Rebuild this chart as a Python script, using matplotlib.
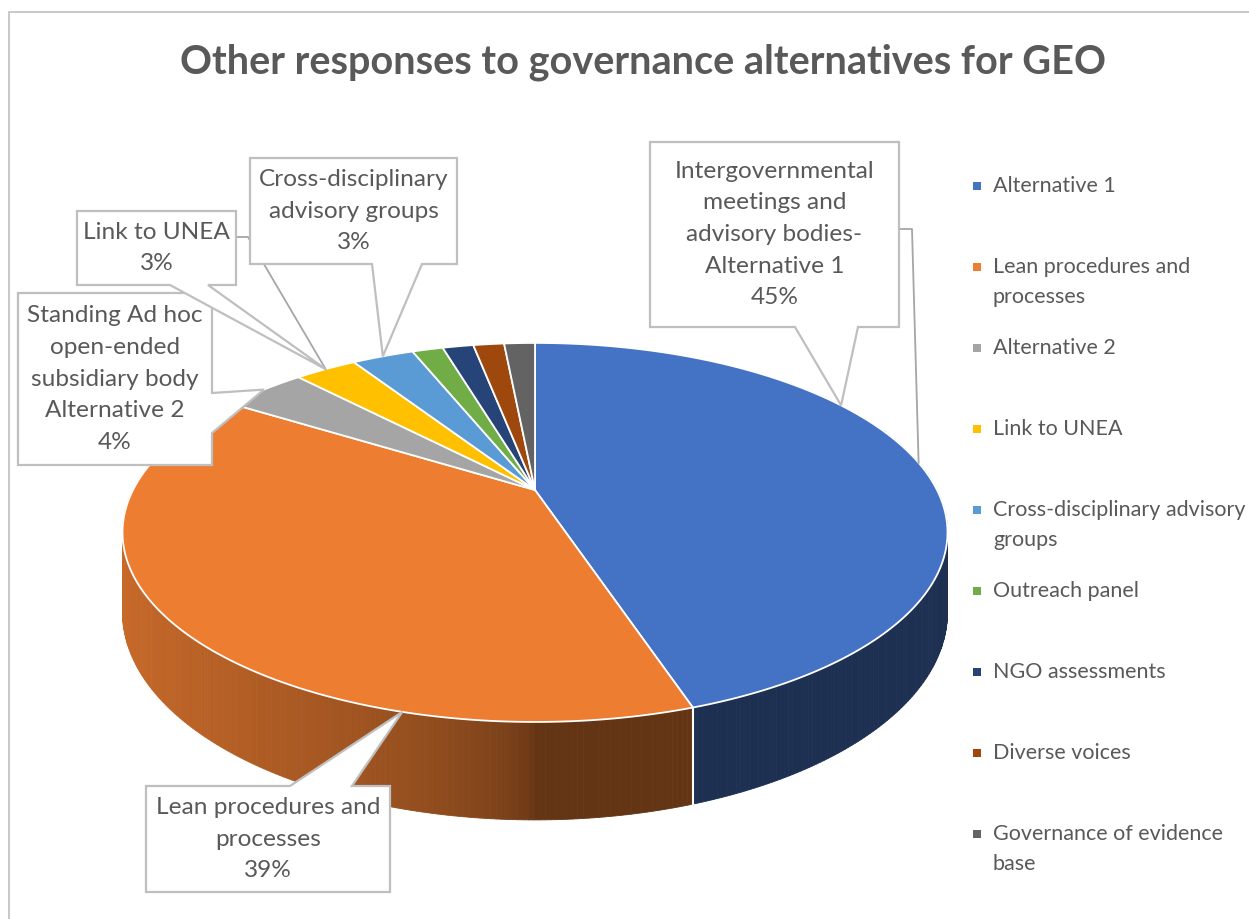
import matplotlib.pyplot as plt
from matplotlib.patches import Polygon, Rectangle
import numpy as np

# Category names shown in the legend
legend_names = ["Alternative 1", "Lean procedures and\nprocesses", "Alternative 2",
                "Link to UNEA", "Cross-disciplinary advisory\ngroups", "Outreach panel",
                "NGO assessments", "Diverse voices", "Governance of evidence\nbase"]
# Share of responses (%)
shares = [45, 39, 4, 3, 3, 1.5, 1.5, 1.5, 1.5]
colors = ["#4472C4", "#ED7D31", "#A5A5A5", "#FFC000", "#5B9BD5",
          "#70AD47", "#264478", "#9E480E", "#636363"]

# Callout label names (only some slices are labelled)
callout_names = {0: "Intergovernmental\nmeetings and\nadvisory bodies-\nAlternative 1",
                 1: "Lean procedures and\nprocesses",
                 2: "Standing Ad hoc\nopen-ended\nsubsidiary body\nAlternative 2",
                 3: "Link to UNEA",
                 4: "Cross-disciplinary\nadvisory groups"}

text_grey = "#595959"
line_grey = "#BFBFBF"
font = "Lato"

fig = plt.figure(figsize=(12.49, 9.19), dpi=100)
ax = fig.add_axes([0, 0, 1, 1])
ax.set_xlim(0, 1249)
ax.set_ylim(919, 0)
ax.axis("off")

# chart frame
ax.plot([9, 9, 1249], [919, 12, 12], color=line_grey, lw=1.2)

ax.text(643, 62, "Other responses to governance alternatives for GEO", ha="center",
        va="center", fontsize=28.5, fontweight="bold", color=text_grey, family=font)

# perspective pie: tilted circle seen from the front
cx, cy = 535, 490
A, B, k = 402, 180, 0.224
depth = 76


def rim(theta):
    t = np.radians(theta)
    u, v = np.sin(t), -np.cos(t)
    s = 1 / (1 - k * v)
    return cx + A * u * s, cy + B * v * s, s


def shade(hexcol, f):
    r, g, b = [int(hexcol[i:i + 2], 16) / 255 for i in (1, 3, 5)]
    return (r * f, g * f, b * f)


total = sum(shares)
bounds = np.concatenate([[0], np.cumsum(shares)]) / total * 360

# side walls, far strips first
strips = []
for i, c in enumerate(colors):
    th = np.linspace(bounds[i], bounds[i + 1], max(3, int(shares[i] * 6)))
    for a0, a1 in zip(th[:-1], th[1:]):
        mid = np.radians((a0 + a1) / 2)
        u, v = np.sin(mid), -np.cos(mid)
        if v < -0.35:
            continue
        x0, y0, s0 = rim(a0)
        x1, y1, s1 = rim(a1)
        quad = [(x0, y0), (x1, y1), (x1, y1 + depth * s1), (x0, y0 + depth * s0)]
        f = 0.42 + 0.43 * np.sqrt(max(0.0, -u))
        strips.append((v, quad, shade(c, f)))
for v, quad, col in sorted(strips, key=lambda z: z[0]):
    ax.add_patch(Polygon(quad, closed=True, facecolor=col, edgecolor=col, lw=0.6, zorder=1))

# white seams on the wall where slices meet at the front
for b in bounds[1:-1]:
    if -np.cos(np.radians(b)) > 0:
        x, y, s = rim(b)
        ax.plot([x, x], [y, y + depth * s], color="white", lw=1.5, zorder=2)

# top face
for i, c in enumerate(colors):
    th = np.linspace(bounds[i], bounds[i + 1], max(4, int(shares[i] * 8)))
    pts = [(cx, cy)] + [rim(t)[:2] for t in th]
    ax.add_patch(Polygon(pts, closed=True, facecolor=c, edgecolor="white", lw=1.3, zorder=3))

# callouts: box (left, top, right, bottom), side of pointer, pointer base, anchor fraction
callouts = {
    0: dict(box=(650, 142, 899, 327), side="bottom", base=(795, 858), frac=0.36, leader=(912, 229)),
    1: dict(box=(146, 786, 390, 892), side="top", base=(290, 352), frac=0.235),
    2: dict(box=(18, 293, 212, 465), side="right", base=(393, 433), frac=0.5),
    3: dict(box=(77, 211, 236, 285), side="bottom", base=(170, 208), frac=0.5, leader=(248, 237)),
    4: dict(box=(250, 158, 457, 264), side="bottom", base=(372, 422), frac=0.5),
}

for z, (i, cfg) in enumerate(callouts.items()):
    L, T, R, Bt = cfg["box"]
    a = bounds[i] + cfg["frac"] * (bounds[i + 1] - bounds[i])
    tx, ty, _ = rim(a)
    b0, b1 = cfg["base"]
    if cfg["side"] == "bottom":
        pts = [(L, T), (R, T), (R, Bt), (b1, Bt), (tx, ty), (b0, Bt), (L, Bt)]
    elif cfg["side"] == "top":
        pts = [(L, T), (b0, T), (tx, ty), (b1, T), (R, T), (R, Bt), (L, Bt)]
    else:
        pts = [(L, T), (R, T), (R, b0), (tx, ty), (R, b1), (R, Bt), (L, Bt)]
    zo = 5 + z
    if "leader" in cfg:
        lx, ly = cfg["leader"]
        mx, my, _ = rim((bounds[i] + bounds[i + 1]) / 2)
        ax.plot([R, lx, mx], [ly, ly, my], color="#A6A6A6", lw=1.3, zorder=zo - 0.5)
    ax.add_patch(Polygon(pts, closed=True, facecolor="white", edgecolor=line_grey,
                         lw=1.6, zorder=zo))
    label = f"{callout_names[i]}\n{shares[i] / total * 100:.0f}%"
    ax.text((L + R) / 2, (T + Bt) / 2, label, ha="center", va="center", fontsize=17.6,
            color=text_grey, family=font, linespacing=1.62, zorder=zo + 0.2)

# legend
for i, name in enumerate(legend_names):
    y = 186 + i * 81
    ax.add_patch(Rectangle((973, y - 4), 8, 8, facecolor=colors[i], edgecolor="none"))
    ax.text(993, y - 10, name, ha="left", va="top", fontsize=15.5, color=text_grey,
            family=font, linespacing=1.65)

fig.savefig("out.png", dpi=100)
